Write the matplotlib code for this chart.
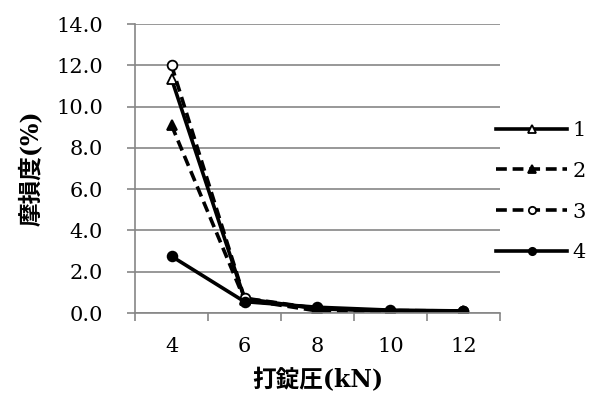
import numpy as np
import matplotlib
matplotlib.use('Agg')
import matplotlib.pyplot as plt

# 打錠圧ごとの摩損度
pressure = ['4', '6', '8', '10', '12']
s1 = [11.35, 0.70, 0.20, 0.10, 0.08]
s2 = [9.10, 0.65, 0.10, 0.07, 0.05]
s3 = [12.00, 0.72, 0.22, 0.12, 0.10]
s4 = [2.75, 0.55, 0.28, 0.14, 0.10]
names = ['1', '2', '3', '4']
yticks = [0, 2, 4, 6, 8, 10, 12, 14]

plt.rcParams['font.family'] = ['DejaVu Serif', 'Noto Sans CJK JP']

fig = plt.figure(figsize=(6.14, 3.99), dpi=100)
ax = fig.add_axes([0.2199, 0.2155, 0.5944, 0.7243])

x = np.arange(len(pressure))
styles = [
    dict(ls='-', marker='^', mfc='white'),
    dict(ls=(0, (3, 1.6)), marker='^', mfc='black'),
    dict(ls=(0, (3, 1.6)), marker='o', mfc='white'),
    dict(ls='-', marker='o', mfc='black'),
]
for ys, nm, st in zip([s1, s2, s3, s4], names, styles):
    ax.plot(x, ys, color='black', lw=2.6, ms=7, mec='black', mew=1.3,
            label=nm, **st)

gray = '#868686'
ax.set_xlim(-0.5, 4.5)
ax.set_ylim(0, 14)
ax.set_yticks(yticks)
ax.set_yticklabels(['%.1f' % v for v in yticks])
ax.yaxis.grid(True, color=gray, lw=1.2)
ax.set_axisbelow(True)
ax.set_xticks(x)
ax.set_xticklabels(pressure)
ax.set_xticks(np.arange(-0.5, 5, 1), minor=True)
ax.tick_params(axis='x', which='major', length=0, pad=17, labelsize=15)
ax.tick_params(axis='x', which='minor', length=6, color=gray, width=1.2)
ax.tick_params(axis='y', length=6, color=gray, width=1.2, labelsize=15, pad=17)
for k in ['top', 'right']:
    ax.spines[k].set_visible(False)
for k in ['left', 'bottom']:
    ax.spines[k].set_color(gray)
    ax.spines[k].set_linewidth(1.2)

ax.set_xlabel('打錠圧(kN)', fontsize=17, fontweight='bold', labelpad=9)
ax.set_ylabel('摩損度(%)', fontsize=17, fontweight='bold', labelpad=10)

leg = ax.legend(loc='center left', bbox_to_anchor=(0.99, 0.42), frameon=False,
                fontsize=15, handlelength=3.4, handletextpad=0.25,
                labelspacing=1.05, borderpad=0, borderaxespad=0,
                markerscale=0.75)

fig.savefig('out.png', dpi=100)
